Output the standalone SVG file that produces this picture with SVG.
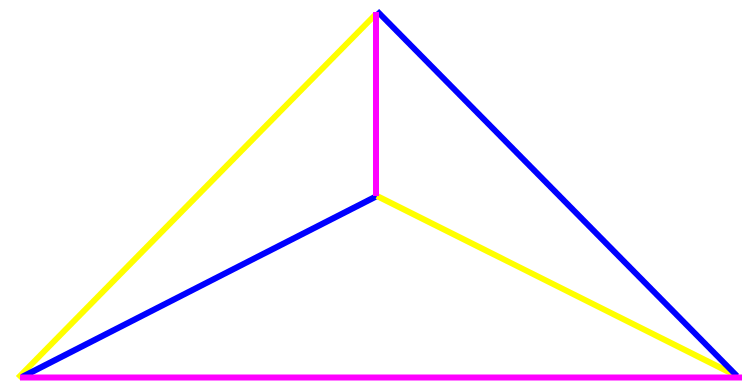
<svg xmlns="http://www.w3.org/2000/svg" width="742" height="381" viewBox="0 0 742 381">
<style>
line{stroke-width:6;stroke-linecap:butt}
.y{stroke:#ffff00}.m{stroke:#ff00ff}.b{stroke:#0000ff}
</style>
<rect width="742" height="381" fill="#fff"/>
<g id="connectors">
<line class="y" x1="376" y1="14" x2="18" y2="378"/>
<line class="b" x1="22" y1="377" x2="377" y2="196"/>
<line class="y" x1="377" y1="196" x2="737" y2="376"/>
<line class="b" x1="377" y1="11" x2="737" y2="376"/>
<line class="m" x1="376" y1="12" x2="376" y2="196"/>
<line class="m" x1="20" y1="377.5" x2="742" y2="377.5"/>
</g>
</svg>
